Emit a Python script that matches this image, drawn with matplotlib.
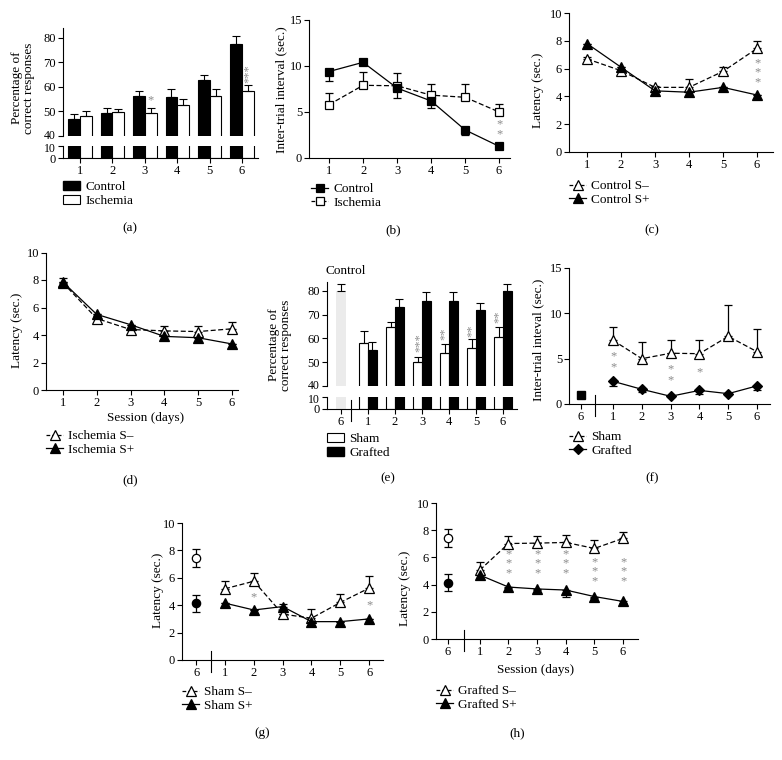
import matplotlib
matplotlib.use('Agg')
import matplotlib.pyplot as plt
from matplotlib.lines import Line2D
from matplotlib.patches import Patch
from matplotlib.transforms import blended_transform_factory, ScaledTranslation
import numpy as np

plt.rcParams['font.family'] = ['Liberation Serif', 'DejaVu Serif']
plt.rcParams['font.size'] = 9

# ---- data ----
sessions = [1, 2, 3, 4, 5, 6]
session_labels = ['1', '2', '3', '4', '5', '6']
ctrl_labels = ['6', '1', '2', '3', '4', '5', '6']

# (a) percentage correct, control vs ischemia
a_control = [46.9, 49.1, 56.1, 55.7, 62.8, 77.4]
a_control_err = [1.8, 2.4, 2.0, 3.5, 2.2, 3.4]
a_ischemia = [48.0, 49.5, 49.3, 52.4, 56.1, 58.1]
a_ischemia_err = [1.9, 1.4, 2.1, 2.7, 2.9, 2.5]

# (b) inter-trial interval
b_control = [9.4, 10.4, 7.6, 6.2, 3.05, 1.27]
b_control_lo = [1.0, 0.0, 1.1, 0.8, 0.6, 0.15]
b_ischemia = [5.8, 7.9, 7.85, 6.83, 6.6, 5.0]
b_ischemia_hi = [1.25, 1.5, 1.35, 1.2, 1.45, 0.9]

# (c) latency, control
c_sminus = [6.7, 5.85, 4.65, 4.65, 5.8, 7.45]
c_sminus_hi = [0.1, 0.1, 0.1, 0.6, 0.35, 0.5]
c_splus = [7.8, 6.1, 4.4, 4.3, 4.65, 4.1]

# (d) latency, ischemia
d_sminus = [7.8, 5.2, 4.4, 4.3, 4.25, 4.45]
d_sminus_hi = [0.35, 0.15, 0.1, 0.35, 0.4, 0.5]
d_splus = [7.85, 5.5, 4.75, 3.9, 3.8, 3.35]

# (e) percentage correct, sham vs grafted (control day 6 first)
e_control = 80.0
e_control_err = 2.9
e_sham = [58.1, 64.6, 49.8, 53.7, 55.8, 60.7]
e_sham_err = [4.9, 2.4, 2.5, 3.9, 4.0, 4.1]
e_grafted = [55.1, 73.3, 75.8, 75.8, 72.1, 80.0]
e_grafted_err = [3.3, 3.5, 3.9, 3.6, 2.7, 2.9]

# (f) inter-trial interval, sham vs grafted
f_control = 1.0
f_sham = [7.02, 5.0, 5.6, 5.55, 7.46, 5.77]
f_sham_hi = [1.44, 1.8, 1.42, 1.47, 3.44, 2.53]
f_grafted = [2.5, 1.62, 0.85, 1.5, 1.14, 2.0]
f_grafted_lo = [0.55, 0.32, 0.1, 0.4, 0.1, 0.5]

# (g)/(h) control day 6 latency
ctrl_sminus, ctrl_sminus_err = 7.44, 0.65
ctrl_splus, ctrl_splus_err = 4.15, 0.62

# (g) latency, sham
g_sminus = [5.2, 5.75, 3.35, 3.05, 4.2, 5.25]
g_sminus_hi = [0.6, 0.6, 0.0, 0.7, 0.63, 0.9]
g_splus = [4.15, 3.65, 3.9, 2.8, 2.8, 3.0]
g_splus_hi = [0.0, 0.0, 0.2, 0.0, 0.0, 0.0]

# (h) latency, grafted
h_sminus = [5.07, 7.02, 7.05, 7.1, 6.66, 7.4]
h_sminus_hi = [0.6, 0.55, 0.55, 0.58, 0.6, 0.45]
h_splus = [4.7, 3.82, 3.68, 3.6, 3.12, 2.76]
h_splus_lo = [0.25, 0.1, 0.1, 0.5, 0.1, 0.1]

# significance stars: (x, y, text, rotation, line spacing)
a_stars = [(3.18, 54.6, '*', 0, 1), (6.19, 65.5, '***', 90, 1)]
b_stars = [(6, 3.1, '*\n*', 0, 0.78)]
c_stars = [(6, 5.7, '*\n*\n*', 0, 0.7)]
e_stars = [(2.9, 58.0, '***', 90, 1), (3.85, 61.8, '**', 90, 1),
           (4.85, 63.2, '**', 90, 1), (5.85, 69.0, '**', 90, 1)]
f_stars = [(1, 4.7, '*\n*', 0, 0.88), (3, 3.18, '*\n*', 0, 0.86), (4, 3.5, '*', 0, 1)]
g_stars = [(2, 4.6, '*', 0, 1), (6, 4.0, '*', 0, 1)]
h_stars = [(2, 5.55, '*\n*\n*', 0, 0.72), (3, 5.55, '*\n*\n*', 0, 0.72),
           (4, 5.55, '*\n*\n*', 0, 0.72), (5, 4.95, '*\n*\n*', 0, 0.72),
           (6, 4.95, '*\n*\n*', 0, 0.72)]

STAR = '#8c8c8c'
W, H = 782, 760
fig = plt.figure(figsize=(W / 100, H / 100), dpi=100)


def box(x0, y0, x1, y1):
    # axes from pixel box (top-left origin)
    return fig.add_axes([x0 / W, 1 - y1 / H, (x1 - x0) / W, (y1 - y0) / H])


def style(ax, bottom=True):
    ax.spines['top'].set_visible(False)
    ax.spines['right'].set_visible(False)
    for s in ax.spines.values():
        s.set_linewidth(0.8)
    ax.tick_params(direction='out', length=3.5, width=0.8, pad=1.5, labelsize=9)
    if not bottom:
        ax.spines['bottom'].set_visible(False)
        ax.tick_params(axis='x', bottom=False, labelbottom=False)


def split_labels(ax_up, ax_lo):
    # nudge the two tick labels that meet at the axis break apart a little
    fig.canvas.draw()
    lab40 = ax_up.get_yticklabels()[0]
    lab10 = ax_lo.get_yticklabels()[-1]
    for lab, dy in ((lab40, 1.5), (lab10, -1.5)):
        lab.set_fontsize(8.5)
        lab.set_transform(lab.get_transform() + ScaledTranslation(0, dy / 100, fig.dpi_scale_trans))


def series(ax, x, y, lo, hi, marker, filled, dashed, ms):
    ax.errorbar(x, y, yerr=[lo, hi], color='k', lw=0.9,
                ls=(0, (4, 2)) if dashed else '-', marker=marker, ms=ms,
                mfc='k' if filled else 'w', mec='k', mew=0.9,
                capsize=3, elinewidth=0.9, capthick=0.9,
                zorder=3 if filled else 2)


def handle(marker, filled, dashed, ms):
    return Line2D([0], [0], color='k', lw=0.9, ls=(0, (3, 1.5)) if dashed else '-',
                  marker=marker, ms=ms, mfc='k' if filled else 'w', mec='k', mew=0.9)


def legend(handles, labels, x, y):
    fig.legend(handles, labels, loc='upper left', bbox_to_anchor=(x / W, 1 - y / H),
               frameon=False, fontsize=9.5, handlelength=1.3, handletextpad=0.4,
               labelspacing=0.12, borderpad=0, borderaxespad=0)


def stars(ax, lst):
    for x, y, t, r, sp in lst:
        ax.text(x, y, t, rotation=r, ha='center', va='center', color=STAR,
                fontsize=9, linespacing=sp)


def ylabel(ax, text, x, y):
    ax.set_ylabel(text, fontsize=9.5, linespacing=1.0)
    ax.yaxis.set_label_coords(x / W, 1 - y / H, transform=fig.transFigure)


def xlabel(ax, text, x, y):
    ax.set_xlabel(text, fontsize=9.5)
    ax.xaxis.set_label_coords(x / W, 1 - y / H, transform=fig.transFigure)


def separator(ax, x, h_px):
    tr = blended_transform_factory(ax.transData, ax.transAxes)
    ax.plot([x, x], [-12 / h_px, 9 / h_px], transform=tr, color='k', lw=0.8, clip_on=False)


def panel_label(t, x, y):
    fig.text(x / W, 1 - y / H, t, ha='center', va='center', fontsize=9.5)


# ---------- (a) ----------
x = np.array(sessions, dtype=float)
bw = 0.36
ax_up = box(63, 28, 258, 135.7)
ax_lo = box(63, 146, 258, 158.3)
for ax in (ax_up, ax_lo):
    ax.bar(x - bw / 2, a_control, bw, color='k', edgecolor='k', lw=0.8)
    ax.bar(x + bw / 2, a_ischemia, bw, color='w', edgecolor='k', lw=0.8)
    ax.set_xlim(0.475, 6.49)
ax_up.errorbar(x - bw / 2, a_control, yerr=[np.zeros(6), a_control_err], fmt='none',
               ecolor='k', elinewidth=0.8, capsize=3, capthick=0.8)
ax_up.errorbar(x + bw / 2, a_ischemia, yerr=[np.zeros(6), a_ischemia_err], fmt='none',
               ecolor='k', elinewidth=0.8, capsize=3, capthick=0.8)
ax_up.set_ylim(40, 84)
ax_up.set_yticks([40, 50, 60, 70, 80])
ax_lo.set_ylim(0, 10)
ax_lo.set_yticks([0, 10])
ax_lo.set_xticks(sessions)
ax_lo.set_xticklabels(session_labels)
style(ax_up, bottom=False)
style(ax_lo)
stars(ax_up, a_stars)
ylabel(ax_up, 'Percentage of\ncorrect responses', 35, 88)
legend([Patch(facecolor='k', edgecolor='k'), Patch(facecolor='w', edgecolor='k', lw=0.8)],
       ['Control', 'Ischemia'], 63, 181)
panel_label('(a)', 130, 228)
a_axes = (ax_up, ax_lo)

# ---------- (b) ----------
ax = box(309, 20, 510, 158)
series(ax, sessions, b_ischemia, np.zeros(6), b_ischemia_hi, 's', False, True, 5.5)
series(ax, sessions, b_control, b_control_lo, np.zeros(6), 's', True, False, 5.5)
ax.set_xlim(0.41, 6.32)
ax.set_ylim(0, 15)
ax.set_yticks([0, 5, 10, 15])
ax.set_xticks(sessions)
style(ax)
stars(ax, b_stars)
ylabel(ax, 'Inter-trial interval (sec.)', 287, 90)
legend([handle('s', True, False, 5.5), handle('s', False, True, 5.5)],
       ['Control', 'Ischemia'], 311, 183)
panel_label('(b)', 393, 230)

# ---------- (c) ----------
ax = box(569, 13, 773, 152)
series(ax, sessions, c_sminus, np.zeros(6), c_sminus_hi, '^', False, True, 7.5)
series(ax, sessions, c_splus, np.zeros(6), np.zeros(6), '^', True, False, 7.5)
ax.set_xlim(0.47, 6.47)
ax.set_ylim(0, 10)
ax.set_yticks([0, 2, 4, 6, 8, 10])
ax.set_xticks(sessions)
style(ax)
stars(ax, c_stars)
ylabel(ax, 'Latency (sec.)', 544, 90)
legend([handle('^', False, True, 7), handle('^', True, False, 7)],
       ['Control S\u2013', 'Control S+'], 569, 180)
panel_label('(c)', 652, 230)

# ---------- (d) ----------
ax = box(46, 252.5, 238, 390)
series(ax, sessions, d_sminus, np.zeros(6), d_sminus_hi, '^', False, True, 7.5)
series(ax, sessions, d_splus, np.zeros(6), np.zeros(6), '^', True, False, 7.5)
ax.set_xlim(0.5, 6.18)
ax.set_ylim(0, 10)
ax.set_yticks([0, 2, 4, 6, 8, 10])
ax.set_xticks(sessions)
style(ax)
ylabel(ax, 'Latency (sec.)', 23, 330)
xlabel(ax, 'Session (days)', 146, 412)
legend([handle('^', False, True, 7), handle('^', True, False, 7)],
       ['Ischemia S\u2013', 'Ischemia S+'], 46, 430)
panel_label('(d)', 130, 480)

# ---------- (e) ----------
bw = 0.33
ax_up = box(327, 282, 517, 385.7)
ax_lo = box(327, 396.7, 517, 409)
for ax in (ax_up, ax_lo):
    ax.bar([0], [e_control], 0.37, color='#ebebeb', edgecolor='none')
    ax.bar(x - bw / 2, e_sham, bw, color='w', edgecolor='k', lw=0.8)
    ax.bar(x + bw / 2, e_grafted, bw, color='k', edgecolor='k', lw=0.8)
    ax.set_xlim(-0.52, 6.52)
ax_up.errorbar([0], [e_control], yerr=[[0], [e_control_err]], fmt='none',
               ecolor='k', elinewidth=0.8, capsize=3, capthick=0.8)
ax_up.errorbar(x - bw / 2, e_sham, yerr=[np.zeros(6), e_sham_err], fmt='none',
               ecolor='k', elinewidth=0.8, capsize=3, capthick=0.8)
ax_up.errorbar(x + bw / 2, e_grafted, yerr=[np.zeros(6), e_grafted_err], fmt='none',
               ecolor='k', elinewidth=0.8, capsize=3, capthick=0.8)
ax_up.set_ylim(40, 83.8)
ax_up.set_yticks([40, 50, 60, 70, 80])
ax_lo.set_ylim(0, 10)
ax_lo.set_yticks([0, 10])
ax_lo.set_xticks([0] + sessions)
ax_lo.set_xticklabels(ctrl_labels)
style(ax_up, bottom=False)
style(ax_lo)
separator(ax_lo, 0.36, 12.3)
stars(ax_up, e_stars)
fig.text(325 / W, 1 - 271 / H, 'Control', ha='left', va='center', fontsize=9.5)
ylabel(ax_up, 'Percentage of\ncorrect responses', 292, 345)
legend([Patch(facecolor='w', edgecolor='k', lw=0.8), Patch(facecolor='k', edgecolor='k')],
       ['Sham', 'Grafted'], 327, 433)
panel_label('(e)', 388, 478)
e_axes = (ax_up, ax_lo)

# ---------- (f) ----------
ax = box(569, 268, 770, 404)
ax.plot([-0.11], [f_control], marker='s', ms=6, color='k', ls='none')
series(ax, sessions, f_sham, np.zeros(6), f_sham_hi, '^', False, True, 7.5)
series(ax, sessions, f_grafted, f_grafted_lo, np.zeros(6), 'D', True, False, 5.5)
ax.set_xlim(-0.53, 6.45)
ax.set_ylim(0, 15)
ax.set_yticks([0, 5, 10, 15])
ax.set_xticks([-0.11] + sessions)
ax.set_xticklabels(ctrl_labels)
style(ax)
separator(ax, 0.375, 136)
stars(ax, f_stars)
ylabel(ax, 'Inter-trial inteval (sec.)', 544, 340)
legend([handle('^', False, True, 7), handle('D', True, False, 5.5)],
       ['Sham', 'Grafted'], 569, 431)
panel_label('(f)', 652, 478)

# ---------- (g) ----------
ax = box(182, 523, 383, 660)
ax.errorbar([0], [ctrl_sminus], yerr=[ctrl_sminus_err], fmt='o', ms=6, mfc='w', mec='k',
            ecolor='k', mew=0.9, elinewidth=0.9, capsize=3, capthick=0.9)
ax.errorbar([0], [ctrl_splus], yerr=[ctrl_splus_err], fmt='o', ms=6, mfc='k', mec='k',
            ecolor='k', mew=0.9, elinewidth=0.9, capsize=3, capthick=0.9)
series(ax, sessions, g_sminus, np.zeros(6), g_sminus_hi, '^', False, True, 7.5)
series(ax, sessions, g_splus, np.zeros(6), g_splus_hi, '^', True, False, 7.5)
ax.set_xlim(-0.49, 6.48)
ax.set_ylim(0, 10)
ax.set_yticks([0, 2, 4, 6, 8, 10])
ax.set_xticks([0] + sessions)
ax.set_xticklabels(ctrl_labels)
style(ax)
separator(ax, 0.5, 137)
stars(ax, g_stars)
ylabel(ax, 'Latency (sec.)', 164, 590)
legend([handle('^', False, True, 7), handle('^', True, False, 7)],
       ['Sham S\u2013', 'Sham S+'], 182, 686)
panel_label('(g)', 262, 733)

# ---------- (h) ----------
ax = box(436, 503, 638, 639)
ax.errorbar([-0.11], [ctrl_sminus], yerr=[ctrl_sminus_err], fmt='o', ms=6, mfc='w', mec='k',
            ecolor='k', mew=0.9, elinewidth=0.9, capsize=3, capthick=0.9)
ax.errorbar([-0.11], [ctrl_splus], yerr=[ctrl_splus_err], fmt='o', ms=6, mfc='k', mec='k',
            ecolor='k', mew=0.9, elinewidth=0.9, capsize=3, capthick=0.9)
series(ax, sessions, h_sminus, np.zeros(6), h_sminus_hi, '^', False, True, 7.5)
series(ax, sessions, h_splus, h_splus_lo, np.zeros(6), '^', True, False, 7.5)
ax.set_xlim(-0.53, 6.52)
ax.set_ylim(0, 10)
ax.set_yticks([0, 2, 4, 6, 8, 10])
ax.set_xticks([-0.11] + sessions)
ax.set_xticklabels(ctrl_labels)
style(ax)
separator(ax, 0.44, 136)
stars(ax, h_stars)
ylabel(ax, 'Latency (sec.)', 411, 588)
xlabel(ax, 'Session (days)', 536, 664)
legend([handle('^', False, True, 7), handle('^', True, False, 7)],
       ['Grafted S\u2013', 'Grafted S+'], 436, 685)
panel_label('(h)', 517, 733)

split_labels(*a_axes)
split_labels(*e_axes)

fig.savefig('out.png', dpi=100)
